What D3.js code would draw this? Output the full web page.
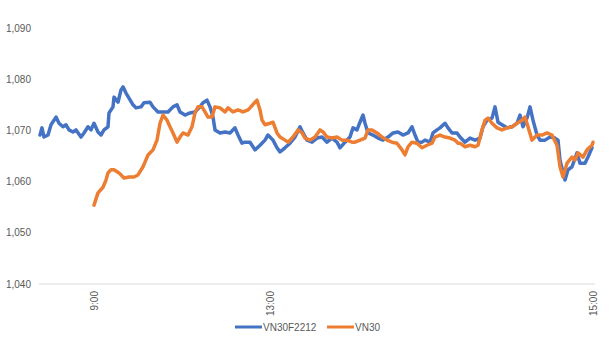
<!DOCTYPE html>
<html><head><meta charset="utf-8">
<script src="https://cdn.jsdelivr.net/npm/d3@7"></script>
<style>body{margin:0;background:#fff}svg{display:block}</style>
</head><body>
<svg id="c" width="610" height="346"></svg>
<script>
// Category-axis positions (point index) with tick labels
const tickIdx = [55, 231, 554];
const tickLabels = ["9:00", "13:00", "15:00"];
const yTicks = [1040, 1050, 1060, 1070, 1080, 1090];
const seriesNames = ["VN30F2212", "VN30"];
const colors = ["#4472C4", "#ED7D31"];

const blueIdx = [1,3,5,9,12,17,20,24,27,30,34,37,42,45,49,52,55,59,62,65,69,70,74,75,79,82,84,87,90,94,97,102,105,111,114,119,124,129,134,138,141,146,151,156,161,164,168,171,174,176,181,186,191,196,199,203,206,211,216,221,226,229,234,238,241,246,251,256,261,264,268,273,278,283,288,293,298,301,306,311,314,318,321,324,326,329,334,339,344,349,354,359,364,369,373,376,379,383,386,391,394,398,401,406,409,413,418,421,426,431,436,441,444,448,453,456,459,463,468,473,478,481,484,488,491,494,498,501,506,511,516,519,521,526,529,533,538,541,546,549,553];
const blueVal = [1069.1,1070.5,1068.7,1069.1,1071.1,1072.6,1071.4,1070.7,1071.1,1070.1,1069.7,1070.1,1068.7,1069.5,1070.7,1070.1,1071.4,1069.7,1069.1,1070.1,1070.7,1073.4,1074.6,1076.5,1075.5,1077.9,1078.5,1077.3,1076.3,1075.0,1074.4,1074.6,1075.4,1075.5,1074.6,1073.6,1073.6,1073.6,1074.6,1075.0,1073.6,1073.0,1073.4,1073.6,1074.6,1075.4,1075.9,1074.6,1072.6,1070.1,1069.5,1069.7,1069.5,1070.5,1069.1,1067.5,1067.7,1067.7,1066.2,1067.1,1068.1,1069.1,1068.1,1066.6,1065.8,1066.6,1067.5,1068.7,1070.7,1069.5,1068.1,1067.7,1068.5,1068.7,1067.7,1068.5,1067.7,1066.6,1067.7,1068.7,1070.5,1070.1,1071.6,1073.0,1071.4,1069.5,1069.1,1068.5,1068.1,1068.7,1069.5,1069.7,1069.1,1069.5,1070.7,1069.1,1067.7,1067.7,1068.1,1067.7,1069.5,1070.1,1070.5,1071.4,1070.5,1069.5,1069.5,1068.7,1067.7,1068.5,1068.1,1068.5,1070.7,1072.0,1072.4,1074.6,1071.6,1071.1,1070.5,1070.7,1071.4,1073.0,1070.7,1072.4,1074.6,1072.0,1069.1,1068.1,1068.1,1068.7,1068.5,1068.1,1064.2,1060.3,1062.3,1062.9,1065.6,1063.6,1063.6,1064.8,1066.6];

const orangeIdx = [55,59,64,67,69,72,75,80,85,90,95,99,104,106,109,114,118,121,124,128,131,134,138,141,144,149,153,156,159,163,166,169,173,176,181,186,189,194,199,204,209,211,216,218,221,223,226,231,234,238,241,246,249,254,259,263,266,271,276,281,284,288,293,298,303,308,313,316,321,326,329,333,338,343,348,353,358,363,366,369,373,378,383,388,393,396,401,406,411,416,419,421,426,431,436,439,443,446,449,453,458,463,468,473,478,483,486,489,493,498,503,508,513,518,521,524,528,533,536,539,544,548,553,554];
const orangeVal = [1055.4,1057.8,1058.9,1060.3,1061.7,1062.3,1062.3,1061.7,1060.7,1060.9,1060.9,1061.3,1062.9,1063.8,1065.2,1066.2,1068.1,1071.4,1073.0,1072.0,1070.7,1069.5,1067.7,1068.7,1069.5,1069.1,1070.7,1073.4,1074.6,1074.6,1073.6,1072.6,1072.6,1074.6,1074.4,1073.6,1074.4,1073.6,1074.0,1073.6,1074.0,1074.4,1075.5,1075.9,1074.0,1072.0,1071.1,1071.4,1071.6,1069.5,1068.7,1068.1,1067.7,1068.7,1070.1,1069.5,1068.5,1068.1,1068.7,1070.1,1069.7,1068.7,1068.5,1068.7,1068.1,1068.1,1067.7,1067.7,1068.1,1068.5,1070.1,1070.1,1069.5,1068.7,1068.1,1067.7,1067.5,1066.2,1065.2,1066.8,1067.7,1067.5,1066.6,1067.1,1067.5,1068.7,1069.1,1068.7,1068.5,1068.1,1067.5,1067.5,1066.8,1067.1,1066.8,1067.1,1070.1,1072.0,1072.4,1071.4,1070.5,1070.1,1070.5,1070.7,1071.4,1072.0,1072.6,1070.7,1068.1,1069.1,1069.1,1069.5,1069.1,1067.1,1062.9,1060.9,1063.6,1064.8,1064.2,1065.6,1064.8,1066.2,1067.1,1067.7];

const svg = d3.select("#c");
const font = "'Liberation Sans', Arial, sans-serif";
const x = d3.scaleLinear().domain([0, 556]).range([39, 595]);
const y = d3.scaleLinear().domain([1040, 1090]).range([284, 28]);

// y labels
svg.append("g").selectAll("text").data(yTicks).join("text")
  .attr("x", 31).attr("y", d => y(d)).attr("dy", "0.35em")
  .attr("text-anchor", "end").attr("font-family", font).attr("font-size", 10)
  .attr("fill", "#595959").text(d => d3.format(",")(d));

// x axis line
svg.append("line").attr("x1", x(0)).attr("x2", x(556)).attr("y1", y(1040)).attr("y2", y(1040))
  .attr("stroke", "#d9d9d9").attr("stroke-width", 1);

// x labels rotated
svg.append("g").selectAll("text").data(tickIdx).join("text")
  .attr("transform", (d) => `translate(${x(d)},291) rotate(-90)`)
  .attr("dy", "0.35em").attr("text-anchor", "end")
  .attr("font-family", font).attr("font-size", 10).attr("fill", "#595959")
  .text((d, i) => tickLabels[i]);

const line = d3.line().x(d => x(d[0])).y(d => y(d[1]));
const series = [d3.zip(blueIdx, blueVal), d3.zip(orangeIdx, orangeVal)];
series.forEach((s, i) => {
  svg.append("path").datum(s).attr("d", line).attr("fill", "none")
    .attr("stroke", colors[i]).attr("stroke-width", 3.5)
    .attr("stroke-linejoin", "round").attr("stroke-linecap", "round");
});

// legend
const legX = [235, 327];
seriesNames.forEach((n, i) => {
  svg.append("line").attr("x1", legX[i]).attr("x2", legX[i] + 27).attr("y1", 327).attr("y2", 327)
    .attr("stroke", colors[i]).attr("stroke-width", 3);
  svg.append("text").attr("x", legX[i] + 28).attr("y", 327).attr("dy", "0.35em")
    .attr("font-family", font).attr("font-size", 10).attr("fill", "#595959").text(n);
});
</script>
</body></html>
